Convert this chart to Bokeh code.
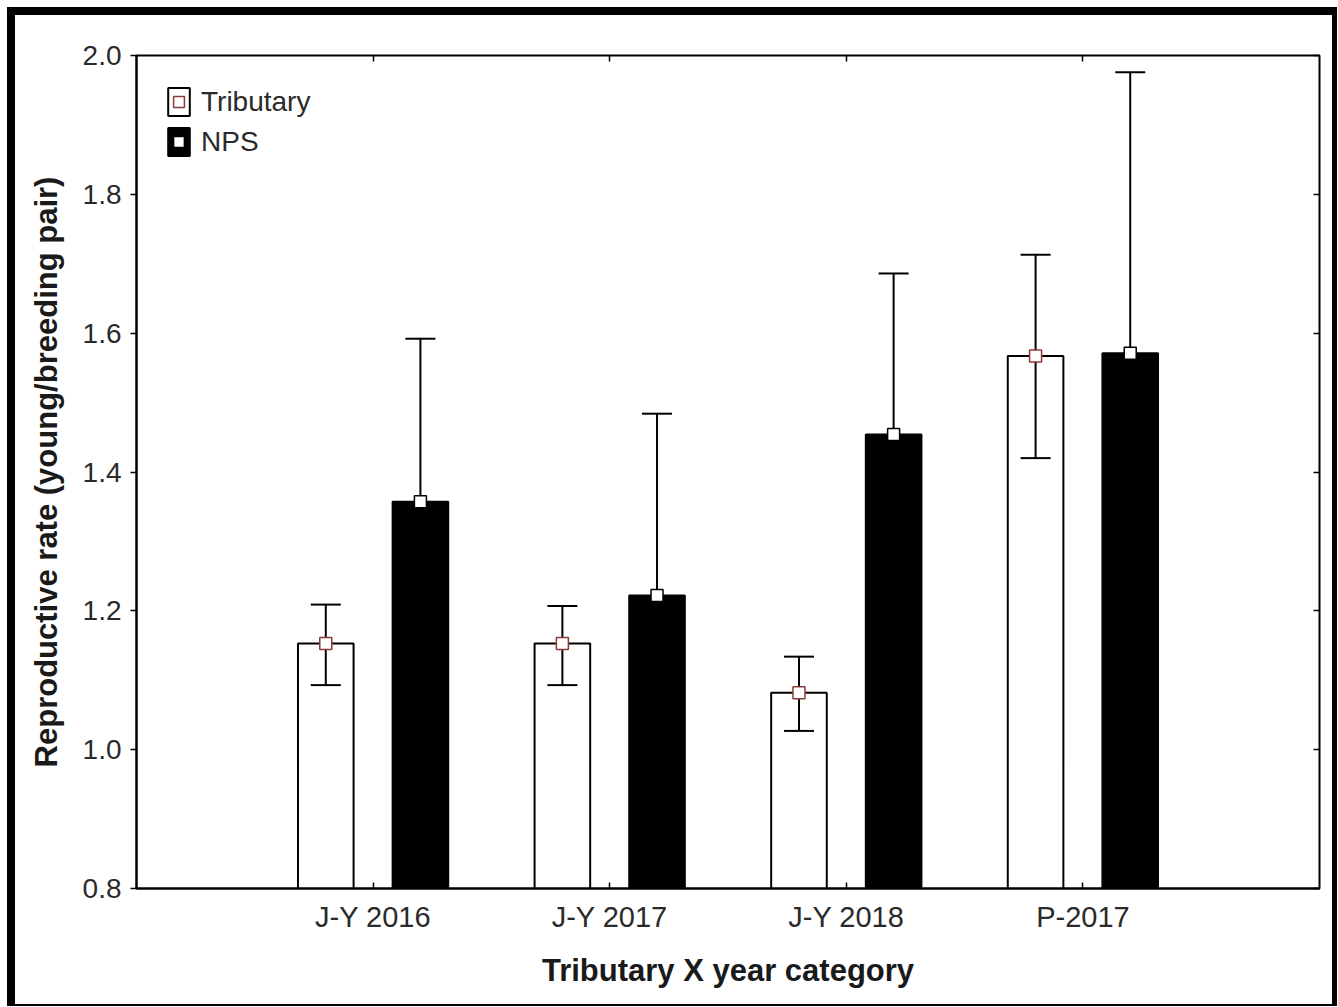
from bokeh.plotting import figure
from bokeh.models import (FactorRange, Range1d, FixedTicker, NumeralTickFormatter, LinearAxis,
                          CategoricalAxis, Whisker, TeeHead, ColumnDataSource, Legend,
                          LegendItem)
from bokeh.transform import dodge
from bokeh.embed import file_html
from bokeh.resources import INLINE

# ---- data ----
categories = ["J-Y 2016", "J-Y 2017", "J-Y 2018", "P-2017"]
trib_mean = [1.153, 1.153, 1.082, 1.567]
trib_upper = [1.209, 1.207, 1.134, 1.713]
trib_lower = [1.093, 1.093, 1.027, 1.420]
nps_mean = [1.357, 1.222, 1.454, 1.571]
nps_upper = [1.592, 1.484, 1.686, 1.976]
nps_lower = [1.122, 0.960, 1.222, 1.166]
y_ticks = [0.8, 1.0, 1.2, 1.4, 1.6, 1.8, 2.0]
y_start, y_end = 0.8, 2.0

src = ColumnDataSource(dict(cat=categories, trib=trib_mean, trib_hi=trib_upper, trib_lo=trib_lower,
                            nps=nps_mean, nps_hi=nps_upper, nps_lo=nps_lower))

FONT = "Liberation Sans"
W, H = 1317, 989

p = figure(x_range=FactorRange(factors=categories, range_padding=0.25),
           y_range=Range1d(y_start, y_end),
           width=W, height=H, output_backend="svg", toolbar_location=None,
           min_border_left=121, min_border_right=26, min_border_top=40, min_border_bottom=126)
p.styles = {"box-sizing": "content-box",
            "border-left": "8px solid black", "border-top": "8px solid black",
            "border-right": "5px solid black", "border-bottom": "2px solid black",
            "margin-left": "7px", "margin-top": "7px"}
p.xgrid.visible = False
p.ygrid.visible = False
p.outline_line_color = "black"
p.outline_line_width = 2
p.background_fill_color = "white"
p.border_fill_color = "white"

# bottom axis
xa = p.below[0]
xa.axis_label = "Tributary X year category"
xa.axis_label_text_font = FONT
xa.axis_label_text_font_size = "31px"
xa.axis_label_text_font_style = "bold"
xa.axis_label_text_color = "#1a1a1a"
xa.axis_label_standoff = 17
xa.major_label_text_font = FONT
xa.major_label_text_font_size = "29px"
xa.major_label_text_color = "#2a2a2a"
xa.major_label_standoff = 12
xa.major_tick_in = 6
xa.major_tick_out = 0
xa.minor_tick_line_color = None
xa.axis_line_color = "black"
xa.axis_line_width = 2
xa.major_tick_line_width = 1.5

# left axis
ya = p.left[0]
ya.ticker = FixedTicker(ticks=y_ticks)
ya.formatter = NumeralTickFormatter(format="0.0")
ya.axis_label = "Reproductive rate (young/breeding pair)"
ya.axis_label_text_font = FONT
ya.axis_label_text_font_size = "31px"
ya.axis_label_text_font_style = "bold"
ya.axis_label_text_color = "#1a1a1a"
ya.axis_label_standoff = 16
ya.major_label_text_font = FONT
ya.major_label_text_font_size = "28px"
ya.major_label_text_color = "#2a2a2a"
ya.major_label_standoff = 9
ya.major_tick_in = 0
ya.major_tick_out = 6
ya.minor_tick_line_color = None
ya.axis_line_color = "black"
ya.axis_line_width = 2
ya.major_tick_line_width = 1.5

# mirrored tick marks on top and right (no labels)
ta = CategoricalAxis(major_tick_in=6, major_tick_out=0, major_label_text_font_size="1px",
                     major_label_text_color=None, group_text_color=None,
                     major_label_standoff=0, axis_line_color=None, major_tick_line_width=1.5)
p.add_layout(ta, "above")
ra = LinearAxis(ticker=FixedTicker(ticks=y_ticks), major_tick_in=6, major_tick_out=0,
                major_label_text_font_size="1px", major_label_text_color=None,
                major_label_standoff=0, axis_line_color=None,
                minor_tick_line_color=None, major_tick_line_width=1.5)
p.add_layout(ra, "right")

off = 0.2
bw = 0.235
x_t = dodge("cat", -off, range=p.x_range)
x_n = dodge("cat", off, range=p.x_range)

tb = p.vbar(x=x_t, top="trib", bottom=y_start, width=bw, source=src,
            fill_color="white", line_color="black", line_width=2)
nb = p.vbar(x=x_n, top="nps", bottom=y_start, width=bw, source=src,
            fill_color="black", line_color="black", line_width=2)

for base, hi, lo in [(x_t, "trib_hi", "trib_lo"), (x_n, "nps_hi", "nps_lo")]:
    w = Whisker(base=base, upper=hi, lower=lo, source=src, line_color="black", line_width=2,
                level="annotation",
                upper_head=TeeHead(size=30, line_color="black", line_width=2),
                lower_head=TeeHead(size=30, line_color="black", line_width=2))
    p.add_layout(w)

ts = p.scatter(x=x_t, y="trib", marker="square", size=12, fill_color="white",
               line_color="#8b3a3a", line_width=1.5, source=src, level="overlay")
ns = p.scatter(x=x_n, y="nps", marker="square", size=12, fill_color="white",
               line_color="black", line_width=1.5, source=src, level="overlay")

legend = Legend(items=[LegendItem(label="Tributary", renderers=[tb, ts]),
                       LegendItem(label="NPS", renderers=[nb, ns])],
                location="top_left", margin=29, padding=0, spacing=5,
                glyph_width=27, glyph_height=35, label_height=35, label_standoff=9,
                label_text_font=FONT, label_text_font_size="28px", label_text_color="#2a2a2a",
                border_line_color=None, background_fill_alpha=0)
p.add_layout(legend)

open("out.html", "w").write(file_html(p, INLINE))
